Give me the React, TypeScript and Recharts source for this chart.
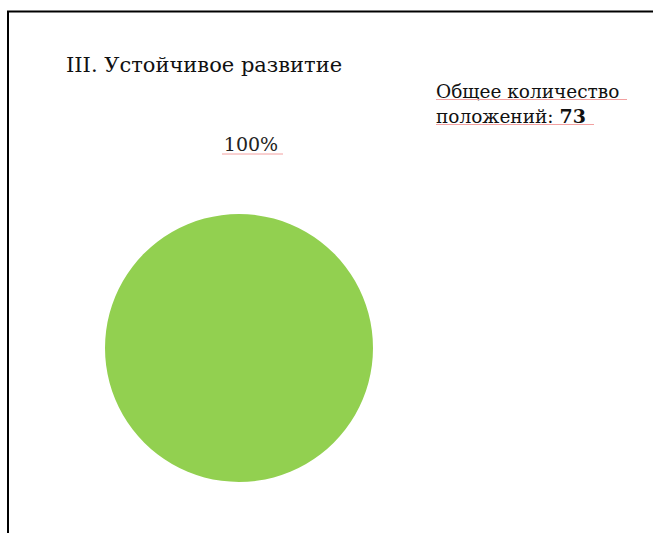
import { PieChart, Pie, Cell } from "recharts"

const categories = ["Устойчивое развитие"]
const values = [73]
const colors = ["#92D050"]
const title = "III. Устойчивое развитие"
const totalLabel = ["Общее количество", "положений: "]

const data = categories.map((name, i) => ({ name, value: values[i] }))
const total = values.reduce((a, b) => a + b, 0)

const RADIAN = Math.PI / 180
const font = "'DejaVu Serif', serif"

const renderLabel = (props: any) => {
  const { cx, cy, midAngle, outerRadius, percent } = props
  const r = outerRadius + 63
  const x = cx + r * Math.cos(-midAngle * RADIAN) + 12
  const y = cy + r * Math.sin(-midAngle * RADIAN)
  const text = `${Math.round(percent * 100)}%`
  return (
    <g>
      <text x={x} y={y} textAnchor="middle" fontFamily={font} fontSize={19} fill="#222">
        {text}
      </text>
      <line x1={x - 29} x2={x + 32} y1={y + 3} y2={y + 3} stroke="#f2a0a0" strokeWidth={1} />
    </g>
  )
}

export default function App() {
  return (
    <div style={{ position: "absolute", left: 0, top: 0, width: 653, height: 533, background: "#fff" }}>
      <PieChart width={653} height={533} margin={{ top: 0, right: 0, bottom: 0, left: 0 }}>
        <rect x={8} y={11.5} width={700} height={600} fill="none" stroke="#000" strokeWidth={2} />
        <text x={66} y={72} fontFamily={font} fontSize={21} fill="#111">{title}</text>
        <text x={436} y={98} fontFamily={font} fontSize={18.5} fill="#111">{totalLabel[0]}</text>
        <text x={436} y={123} fontFamily={font} fontSize={18.5} fill="#111">
          {totalLabel[1]}
          <tspan fontWeight="bold" fontSize={19}>{total}</tspan>
        </text>
        <line x1={436} x2={627} y1={99.5} y2={99.5} stroke="#f2a0a0" strokeWidth={1} />
        <line x1={436} x2={594} y1={124.5} y2={124.5} stroke="#f2a0a0" strokeWidth={1} />
        <Pie
          data={data}
          dataKey="value"
          nameKey="name"
          cx={239}
          cy={348}
          outerRadius={134}
          startAngle={270}
          endAngle={-90}
          stroke="none"
          label={renderLabel}
          labelLine={false}
          isAnimationActive={false}
        >
          {data.map((d, i) => (
            <Cell key={d.name} fill={colors[i]} />
          ))}
        </Pie>
      </PieChart>
    </div>
  )
}
